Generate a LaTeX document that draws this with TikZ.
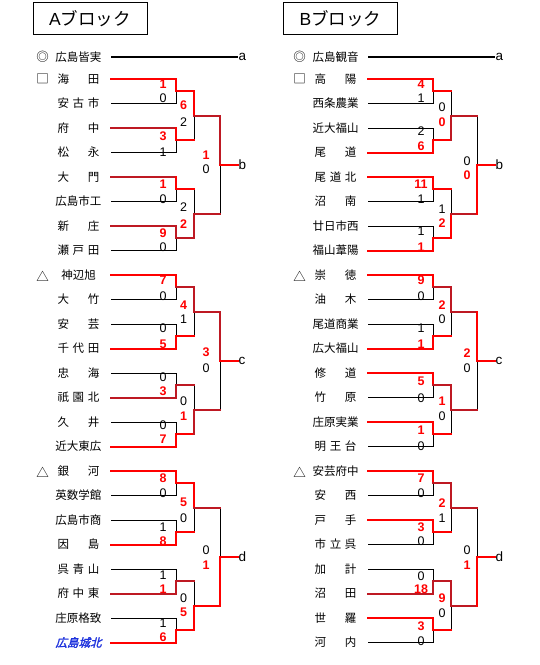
\documentclass[tikz,border=0pt]{standalone}
\usepackage{fontspec}
\setmainfont{Liberation Sans}
\newfontfamily\jp{Noto Sans CJK JP}
\newfontfamily\jpbi[FakeSlant=0.25,FakeBold=2]{Noto Sans CJK JP}
\definecolor{winred}{RGB}{255,0,0}
\definecolor{windark}{RGB}{190,25,35}
\definecolor{cityblue}{RGB}{30,50,220}
\newcommand{\spr}[1]{\makebox[42pt][s]{#1}}
% empty bracket of one group of eight, first row at #1
\newcommand{\bracket}[1]{%
  \draw[bline] \foreach \j in {0,...,7} {(111,#1+24.5*\j) -- (176,#1+24.5*\j)}
    \foreach \j in {0,2,4,6} {(176,#1+24.5*\j) -- (176,#1+24.5*\j+24.5)
      (176,#1+24.5*\j+12.25) -- (194,#1+24.5*\j+12.25)}
    (194,#1+12.25) -- (194,#1+61.25) (194,#1+36.75) -- (220,#1+36.75)
    (194,#1+110.25) -- (194,#1+159.25) (194,#1+134.75) -- (220,#1+134.75)
    (220,#1+36.75) -- (220,#1+134.75) (220,#1+85.75) -- (237.5,#1+85.75);}

\tikzset{
  bline/.style={black,line width=0.9pt},
  win/.style={winred,line width=2pt,line cap=rect},
  wind/.style={windark,line width=2pt,line cap=rect},
  team/.style={font={\jp\fontsize{11.5}{13}\selectfont},inner sep=0pt},
  seedmark/.style={font={\jp\fontsize{12.5}{13}\selectfont},inner sep=0pt},
  scb/.style={font={\fontsize{12.5}{13}\selectfont},inner sep=0pt},
  scr/.style={font={\bfseries\fontsize{12.5}{13}\selectfont},text=winred,inner sep=0pt},
  lett/.style={font={\fontsize{13.5}{14}\selectfont},inner sep=0pt,anchor=west},
  ttlbox/.style={draw,line width=0.8pt,minimum width=114pt,minimum height=31.5pt,font={\fontsize{17.5}{20}\selectfont}}
}

\begin{document}
\begin{tikzpicture}[x=1pt,y=-1pt]
\useasboundingbox (0,0) rectangle (540,665);

% ---- A block
\node[ttlbox] (ttlA) at (90,18.5) {A\jp ブロック};
\draw[bline,line width=1.6pt] (111,57) -- (237.5,57);
\bracket{79}
\bracket{275}
\bracket{471}

\draw[win] (111,79) -| (176,91.25) -| (194,115.75);
\draw[wind] (194,115.75) -| (220,164.75);
\draw[win] (220,164.75) -- (237.5,164.75);
\draw[wind] (111,128) -- (176,128);
\draw[win] (176,128) |- (194,140.25);
\draw[wind] (111,177) -- (176,177);
\draw[win] (176,177) |- (194,189.25);
\draw[wind] (111,226) -| (176,238.25) -| (194,213.75) -- (220,213.75);

\draw[win] (111,275) -| (176,287.25);
\draw[wind] (176,287.25) -| (194,311.75) -| (220,360.75);
\draw[win] (220,360.75) -- (237.5,360.75);
\draw[win] (111,348.5) -| (176,336.25) -- (194,336.25);
\draw[wind] (111,397.5) -| (176,385.25) -- (194,385.25);
\draw[win] (111,446.5) -| (176,434.25) -- (194,434.25);
\draw[wind] (194,434.25) |- (220,409.75);

\draw[win] (111,471) -| (176,483.25) -| (194,507.75);
\draw[wind] (194,507.75) -- (220,507.75);
\draw[win] (111,544.5) -| (176,532.25) -- (194,532.25);
\draw[wind] (111,593.5) -| (176,581.25) -- (194,581.25);
\draw[win] (111,642.5) -| (176,630.25) -| (194,605.75) -| (220,556.75) -- (237.5,556.75);

\node[seedmark] (mA1) at (42.7,57) {◎};
\node[seedmark] (mA2) at (42.7,79) {□};
\node[seedmark] (mA3) at (42.7,276) {△};
\node[seedmark] (mA4) at (42.7,472) {△};
\foreach \nm/\yy [count=\n] in {広島皆実/57, \spr{海 田}/79, \spr{安 古 市}/103.5,
    \spr{府 中}/128, \spr{松 永}/152.5, \spr{大 門}/177, 広島市工/201.5,
    \spr{新 庄}/226, \spr{瀬 戸 田}/250.5, 神辺旭/275, \spr{大 竹}/299.5,
    \spr{安 芸}/324, \spr{千 代 田}/348.5, \spr{忠 海}/373, \spr{祇 園 北}/397.5,
    \spr{久 井}/422, 近大東広/446.5, \spr{銀 河}/471, 英数学館/495.5,
    広島市商/520, \spr{因 島}/544.5, \spr{呉 青 山}/569, \spr{府 中 東}/593.5,
    庄原格致/618}
  \node[team] (tA\n) at (78.5,\yy) {\nm};
\node[team,font={\jpbi\fontsize{11.5}{13}\selectfont},text=cityblue] (tA25) at (78.5,642.5) {広島城北};

\foreach \xx/\yy/\v/\w [count=\n] in {163/84/1/r, 163/97.7/0/b, 163/136/3/r, 163/151.7/1/b,
    163/184/1/r, 163/199.3/0/b, 163/232.7/9/r, 163/247.3/0/b,
    183.5/105/6/r, 183.5/121.7/2/b, 183.5/207/2/b, 183.5/224/2/r, 206/155/1/r, 206/169.3/0/b,
    163/280/7/r, 163/295.7/0/b, 163/328.3/0/b, 163/344/5/r, 163/377/0/b, 163/391.7/3/r,
    163/425/0/b, 163/439.3/7/r,
    183.5/305/4/r, 183.5/319/1/b, 183.5/400.7/0/b, 183.5/416/1/r, 206/352.3/3/r, 206/367.7/0/b,
    163/478.3/8/r, 163/493.3/0/b, 163/526.7/1/b, 163/541/8/r, 163/575/1/b, 163/589.3/1/r,
    163/622.7/1/b, 163/637.3/6/r,
    183.5/502.7/5/r, 183.5/517.7/0/b, 183.5/598.3/0/b, 183.5/612.7/5/r, 206/550/0/b, 206/565.3/1/r}
  \node[sc\w] (sA\n) at (\xx,\yy) {\v};

\node[lett] (la) at (238.5,57) {a};
\node[lett] (lb) at (238.5,164.75) {b};
\node[lett] (lc) at (238.5,360.75) {c};
\node[lett] (ld) at (238.5,556.75) {d};

% ---- B block
\begin{scope}[xshift=257pt]
\node[ttlbox] (ttlB) at (83.5,18.5) {B\jp ブロック};
\draw[bline,line width=1.6pt] (111,57) -- (237.5,57);
\bracket{79}
\bracket{275}
\bracket{471}

\draw[win] (111,79) -| (176,91.25) -- (194,91.25);
\draw[win] (111,152.5) -| (176,140.25) -- (194,140.25);
\draw[wind] (194,140.25) |- (220,115.75);
\draw[win] (111,177) -| (176,189.25) -- (194,189.25);
\draw[win] (111,250.5) -| (176,238.25) -| (194,213.75);
\draw[wind] (194,213.75) -- (220,213.75);
\draw[win] (220,213.75) |- (237.5,164.75);

\draw[win] (111,275) -| (176,287.25);
\draw[wind] (176,287.25) -| (194,311.75) -- (220,311.75);
\draw[win] (220,311.75) |- (237.5,360.75);
\draw[win] (111,348.5) -| (176,336.25) -- (194,336.25);
\draw[win] (111,373) -| (176,385.25);
\draw[wind] (176,385.25) -| (194,409.75) -- (220,409.75);
\draw[win] (111,422) -| (176,434.25) -- (194,434.25);

\draw[win] (111,471) -| (176,483.25);
\draw[wind] (176,483.25) -| (194,507.75) -- (220,507.75);
\draw[win] (111,520) -| (176,532.25) -- (194,532.25);
\draw[wind] (111,593.5) -| (176,581.25) -| (194,605.75) -- (220,605.75);
\draw[win] (220,605.75) |- (237.5,556.75);
\draw[win] (111,618) -| (176,630.25) -- (194,630.25);

\node[seedmark] (mB1) at (42.7,57) {◎};
\node[seedmark] (mB2) at (42.7,79) {□};
\node[seedmark] (mB3) at (42.7,276) {△};
\node[seedmark] (mB4) at (42.7,472) {△};
\foreach \nm/\yy [count=\n] in {広島観音/57, \spr{高 陽}/79, 西条農業/103.5, 近大福山/128,
    \spr{尾 道}/152.5, \spr{尾 道 北}/177, \spr{沼 南}/201.5, 廿日市西/226, 福山葦陽/250.5,
    \spr{崇 徳}/275, \spr{油 木}/299.5, 尾道商業/324, 広大福山/348.5, \spr{修 道}/373,
    \spr{竹 原}/397.5, 庄原実業/422, \spr{明 王 台}/446.5, 安芸府中/471, \spr{安 西}/495.5,
    \spr{戸 手}/520, \spr{市 立 呉}/544.5, \spr{加 計}/569, \spr{沼 田}/593.5,
    \spr{世 羅}/618, \spr{河 内}/642.5}
  \node[team] (tB\n) at (78.5,\yy) {\nm};

\foreach \xx/\yy/\v/\w [count=\n] in {164/84.3/4/r, 164/97.7/1/b, 164/131/2/b, 164/146/6/r,
    164/184/11/r, 164/199.3/1/b, 164/230.7/1/b, 164/246.7/1/r,
    185/107/0/b, 185/122/0/r, 185/209/1/b, 185/223.3/2/r, 210/160.7/0/b, 210/175/0/r,
    164/280/9/r, 164/295.7/0/b, 164/328.3/1/b, 164/344/1/r, 164/381.7/5/r, 164/397.7/0/b,
    164/430/1/r, 164/446/0/b,
    185/305/2/r, 185/319.3/0/b, 185/400.7/1/r, 185/415.7/0/b, 210/352.7/2/r, 210/367.7/0/b,
    164/478.3/7/r, 164/493.3/0/b, 164/526.7/3/r, 164/541/0/b, 164/575.7/0/b, 164/589.3/18/r,
    164/625.7/3/r, 164/640.7/0/b,
    185/502.7/2/r, 185/517.7/1/b, 185/598.3/9/r, 185/613.3/0/b, 210/550/0/b, 210/565.3/1/r}
  \node[sc\w] (sB\n) at (\xx,\yy) {\v};

\node[lett] (lbA) at (238.5,57) {a};
\node[lett] (lbB) at (238.5,164.75) {b};
\node[lett] (lbC) at (238.5,360.75) {c};
\node[lett] (lbD) at (238.5,556.75) {d};
\end{scope}
\end{tikzpicture}
\end{document}
